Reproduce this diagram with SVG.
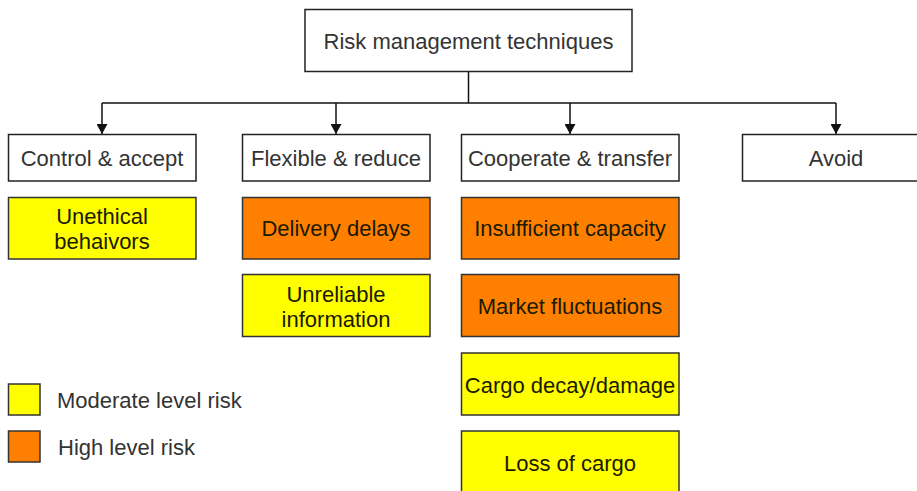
<svg xmlns="http://www.w3.org/2000/svg" width="917" height="491" viewBox="0 0 917 491">
  <style>
    .box { fill: #ffffff; stroke: #222222; stroke-width: 1.5; }
    .mod { fill: #ffff00; stroke: #333333; stroke-width: 1.5; }
    .high { fill: #ff8000; stroke: #333333; stroke-width: 1.5; }
    .t { font-family: "Liberation Sans", Arial, sans-serif; font-size: 22px; fill: #333333; text-anchor: middle; }
    .tc { font-family: "Liberation Sans", Arial, sans-serif; font-size: 22px; fill: #1a1a00; text-anchor: middle; }
    .lt { font-family: "Liberation Sans", Arial, sans-serif; font-size: 22px; fill: #333333; }
    .conn { fill: none; stroke: #111111; stroke-width: 1.5; }
  </style>
  <defs>
    <marker id="arrow" viewBox="0 0 10 11" refX="10" refY="5.5" markerWidth="11" markerHeight="11" markerUnits="userSpaceOnUse" orient="auto">
      <path d="M0,0 L10,5.5 L0,11 Z" fill="#111111"/>
    </marker>
  </defs>

  <rect width="917" height="491" fill="#ffffff"/>

  <g id="connectors">
    <path class="conn" d="M468.5,72 V103"/>
    <path class="conn" d="M102,103 H836"/>
    <path class="conn" d="M102,103 V134" marker-end="url(#arrow)"/>
    <path class="conn" d="M336,103 V134" marker-end="url(#arrow)"/>
    <path class="conn" d="M570,103 V134" marker-end="url(#arrow)"/>
    <path class="conn" d="M836,103 V134" marker-end="url(#arrow)"/>
  </g>

  <g id="root">
    <rect class="box" x="305" y="9.5" width="327" height="62"/>
    <text class="t" x="468.5" y="49">Risk management techniques</text>
  </g>

  <g id="control-accept">
    <rect class="box" x="8.5" y="134.5" width="187.5" height="46.5"/>
    <text class="t" x="102" y="165.5">Control &amp; accept</text>
  </g>
  <g id="flexible-reduce">
    <rect class="box" x="242.5" y="134.5" width="187.5" height="46.5"/>
    <text class="t" x="336" y="165.5">Flexible &amp; reduce</text>
  </g>
  <g id="cooperate-transfer">
    <rect class="box" x="461.5" y="134.5" width="217.5" height="46.5"/>
    <text class="t" x="570" y="165.5">Cooperate &amp; transfer</text>
  </g>
  <g id="avoid">
    <rect class="box" x="742.5" y="134.5" width="188" height="46.5"/>
    <text class="t" x="836" y="165.5">Avoid</text>
  </g>

  <g id="unethical-behaviors">
    <rect class="mod" x="8.5" y="197.5" width="187.5" height="61.5"/>
    <text class="tc" x="102" y="224">Unethical</text>
    <text class="tc" x="102" y="248.5">behaivors</text>
  </g>
  <g id="delivery-delays">
    <rect class="high" x="242.5" y="197.5" width="187.5" height="61.5"/>
    <text class="tc" x="336" y="236">Delivery delays</text>
  </g>
  <g id="unreliable-information">
    <rect class="mod" x="242.5" y="274.5" width="187.5" height="62"/>
    <text class="tc" x="336" y="302">Unreliable</text>
    <text class="tc" x="336" y="327">information</text>
  </g>
  <g id="insufficient-capacity">
    <rect class="high" x="461.5" y="197.5" width="217.5" height="61.5"/>
    <text class="tc" x="570" y="236">Insufficient capacity</text>
  </g>
  <g id="market-fluctuations">
    <rect class="high" x="461.5" y="274.5" width="217.5" height="62"/>
    <text class="tc" x="570" y="314">Market fluctuations</text>
  </g>
  <g id="cargo-decay">
    <rect class="mod" x="461.5" y="353" width="217.5" height="62"/>
    <text class="tc" x="570" y="392.5">Cargo decay/damage</text>
  </g>
  <g id="loss-of-cargo">
    <rect class="mod" x="461.5" y="431" width="217.5" height="64"/>
    <text class="tc" x="570" y="471">Loss of cargo</text>
  </g>

  <g id="legend-moderate">
    <rect class="mod" x="8.5" y="384" width="31.5" height="31"/>
    <text class="lt" x="57" y="408">Moderate level risk</text>
  </g>
  <g id="legend-high">
    <rect class="high" x="8.5" y="431" width="31.5" height="31"/>
    <text class="lt" x="58" y="454.5">High level risk</text>
  </g>
</svg>
